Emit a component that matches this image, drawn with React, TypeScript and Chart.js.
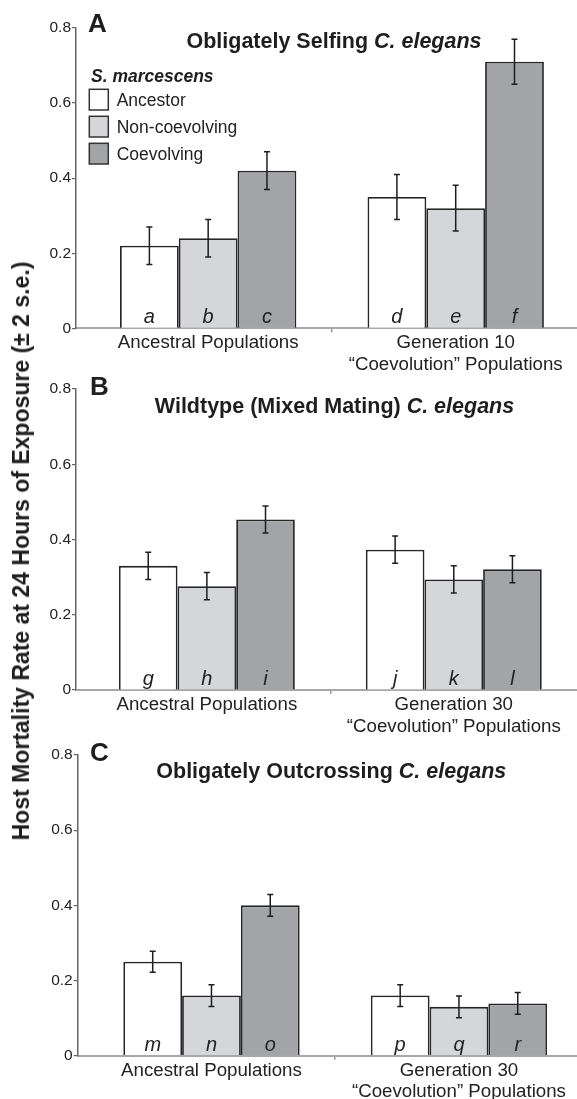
import React, { useEffect, useRef } from "react";
import { Chart, registerables } from "chart.js";

Chart.register(...registerables);

const FONT = 'Arial, "Liberation Sans", Helvetica, sans-serif';

// ---------- shared ----------
const SERIES_NAMES = ["Ancestor", "Non-coevolving", "Coevolving"];
const SERIES_COLORS = ["#ffffff", "#d5d6d9", "#a3a4a7"];
const Y_TICKS = [0, 0.2, 0.4, 0.6, 0.8];
const Y_TITLE = "Host Mortality Rate at 24 Hours of Exposure (\u00b1 2 s.e.)";
const LEGEND_TITLE = "S. marcescens";

// ---------- panel A ----------
const A_CATEGORIES = [["Ancestral Populations"], ["Generation 10", "\u201cCoevolution\u201d Populations"]];
const A_ANCESTOR = [0.22, 0.35];
const A_NONCOEV = [0.24, 0.32];
const A_COEV = [0.42, 0.71];
const A_ANCESTOR_ERR = [0.05, 0.06];
const A_NONCOEV_ERR = [0.05, 0.061];
const A_COEV_ERR = [0.05, 0.06];
const A_LETTERS = [["a", "d"], ["b", "e"], ["c", "f"]];

// ---------- panel B ----------
const B_CATEGORIES = [["Ancestral Populations"], ["Generation 30", "\u201cCoevolution\u201d Populations"]];
const B_ANCESTOR = [0.33, 0.373];
const B_NONCOEV = [0.276, 0.294];
const B_COEV = [0.453, 0.321];
const B_ANCESTOR_ERR = [0.036, 0.036];
const B_NONCOEV_ERR = [0.036, 0.036];
const B_COEV_ERR = [0.036, 0.036];
const B_LETTERS = [["g", "j"], ["h", "k"], ["i", "l"]];

// ---------- panel C ----------
const C_CATEGORIES = [["Ancestral Populations"], ["Generation 30", "\u201cCoevolution\u201d Populations"]];
const C_ANCESTOR = [0.25, 0.16];
const C_NONCOEV = [0.16, 0.13];
const C_COEV = [0.4, 0.139];
const C_ANCESTOR_ERR = [0.028, 0.029];
const C_NONCOEV_ERR = [0.029, 0.029];
const C_COEV_ERR = [0.029, 0.029];
const C_LETTERS = [["m", "p"], ["n", "q"], ["o", "r"]];

type PanelCfg = {
  categories: string[][];
  values: number[][];
  errors: number[][];
  letters: string[][];
  panelLetter: string;
  titleMain: string;
  titleItalic: string;
  legend: boolean;
  // layout
  top: number;
  height: number;
  padTop: number;
  xAxisHeight: number;
  axisLeft: number;
  xMin: number;
  xMax: number;
  titleX: number;
  titleBaseline: number;
  letterX: number;
  letterBaseline: number;
};

const PANELS: PanelCfg[] = [
  {
    categories: A_CATEGORIES,
    values: [A_ANCESTOR, A_NONCOEV, A_COEV],
    errors: [A_ANCESTOR_ERR, A_NONCOEV_ERR, A_COEV_ERR],
    letters: A_LETTERS,
    panelLetter: "A",
    titleMain: "Obligately Selfing ",
    titleItalic: "C. elegans",
    legend: true,
    top: 0,
    height: 400,
    padTop: 28,
    xAxisHeight: 71.7,
    axisLeft: 76,
    xMin: -0.534,
    xMax: 1.49,
    titleX: 334,
    titleBaseline: 48.3,
    letterX: 88,
    letterBaseline: 32.3,
  },
  {
    categories: B_CATEGORIES,
    values: [B_ANCESTOR, B_NONCOEV, B_COEV],
    errors: [B_ANCESTOR_ERR, B_NONCOEV_ERR, B_COEV_ERR],
    letters: B_LETTERS,
    panelLetter: "B",
    titleMain: "Wildtype (Mixed Mating) ",
    titleItalic: "C. elegans",
    legend: false,
    top: 370,
    height: 400,
    padTop: 19,
    xAxisHeight: 80,
    axisLeft: 76,
    xMin: -0.53,
    xMax: 1.499,
    titleX: 334.5,
    titleBaseline: 43.3,
    letterX: 90,
    letterBaseline: 25,
  },
  {
    categories: C_CATEGORIES,
    values: [C_ANCESTOR, C_NONCOEV, C_COEV],
    errors: [C_ANCESTOR_ERR, C_NONCOEV_ERR, C_COEV_ERR],
    letters: C_LETTERS,
    panelLetter: "C",
    titleMain: "Obligately Outcrossing ",
    titleItalic: "C. elegans",
    legend: false,
    top: 720,
    height: 379,
    padTop: 35,
    xAxisHeight: 43.3,
    axisLeft: 77.7,
    xMin: -0.5406,
    xMax: 1.477,
    titleX: 331.3,
    titleBaseline: 58.3,
    letterX: 90,
    letterBaseline: 40.7,
  },
];

function makeDecorPlugin(cfg: PanelCfg) {
  return {
    id: "decor" + cfg.panelLetter,
    afterDatasetsDraw(chart: any) {
      const ctx = chart.ctx as CanvasRenderingContext2D;
      const yScale = chart.scales.y;
      chart.data.datasets.forEach((_ds: any, i: number) => {
        const meta = chart.getDatasetMeta(i);
        meta.data.forEach((bar: any, j: number) => {
          const v = cfg.values[i][j];
          const e = cfg.errors[i][j];
          const x = bar.x;
          const y1 = yScale.getPixelForValue(v + e);
          const y2 = yScale.getPixelForValue(v - e);
          ctx.save();
          ctx.strokeStyle = "#1e1e1e";
          ctx.lineWidth = 1.5;
          ctx.beginPath();
          ctx.moveTo(x, y1);
          ctx.lineTo(x, y2);
          ctx.moveTo(x - 3, y1);
          ctx.lineTo(x + 3, y1);
          ctx.moveTo(x - 3, y2);
          ctx.lineTo(x + 3, y2);
          ctx.stroke();
          ctx.font = `italic 20px ${FONT}`;
          ctx.textAlign = "center";
          ctx.textBaseline = "alphabetic";
          ctx.fillStyle = "#222";
          ctx.fillText(cfg.letters[i][j], x, chart.chartArea.bottom - 5);
          ctx.restore();
        });
      });
    },
    afterDraw(chart: any) {
      const ctx = chart.ctx as CanvasRenderingContext2D;
      ctx.save();
      ctx.fillStyle = "#1e1e1e";
      ctx.textBaseline = "alphabetic";
      // panel letter
      ctx.textAlign = "left";
      ctx.font = `bold 26px ${FONT}`;
      ctx.fillText(cfg.panelLetter, cfg.letterX, cfg.letterBaseline);
      // title (mixed style)
      const fMain = `bold 21.5px ${FONT}`;
      const fItal = `italic bold 21.5px ${FONT}`;
      ctx.font = fMain;
      const w1 = ctx.measureText(cfg.titleMain).width;
      ctx.font = fItal;
      const w2 = ctx.measureText(cfg.titleItalic).width;
      const x0 = cfg.titleX - (w1 + w2) / 2;
      ctx.font = fMain;
      ctx.fillText(cfg.titleMain, x0, cfg.titleBaseline);
      ctx.font = fItal;
      ctx.fillText(cfg.titleItalic, x0 + w1, cfg.titleBaseline);
      // legend
      if (cfg.legend) {
        ctx.font = `italic bold 17.5px ${FONT}`;
        ctx.fillText(LEGEND_TITLE, 91, 81.7);
        chart.data.datasets.forEach((ds: any, k: number) => {
          const by = 89.3 + k * 27;
          ctx.fillStyle = ds.backgroundColor;
          ctx.fillRect(89.3, by, 19, 20.7);
          ctx.strokeStyle = "#333";
          ctx.lineWidth = 1.5;
          ctx.strokeRect(89.3, by, 19, 20.7);
          ctx.fillStyle = "#222";
          ctx.font = `17.5px ${FONT}`;
          ctx.textBaseline = "middle";
          ctx.fillText(ds.label, 116.7, by + 11.5);
          ctx.textBaseline = "alphabetic";
        });
      }
      ctx.restore();
    },
  };
}

function Panel({ cfg }: { cfg: PanelCfg }) {
  const ref = useRef<HTMLCanvasElement>(null);
  useEffect(() => {
    if (!ref.current) return;
    const chart = new Chart(ref.current, {
      type: "bar",
      data: {
        datasets: SERIES_NAMES.map((name, i) => ({
          label: name,
          data: cfg.values[i].map((v, j) => ({ x: j, y: v })),
          backgroundColor: SERIES_COLORS[i],
          borderColor: "#262626",
          borderWidth: 1.8,
          categoryPercentage: 0.7125,
          barPercentage: 1,
        })),
      },
      options: {
        responsive: false,
        animation: false,
        devicePixelRatio: 1,
        layout: { padding: { top: cfg.padTop, left: 0, right: 0, bottom: 0 } },
        plugins: {
          legend: { display: false },
          tooltip: { enabled: false },
          title: { display: false },
        },
        scales: {
          x: {
            type: "linear",
            offset: false,
            min: cfg.xMin,
            max: cfg.xMax,
            afterBuildTicks: (s: any) => {
              s.ticks = cfg.categories.map((_c, i) => ({ value: i }));
            },
            afterFit: (s: any) => {
              s.height = cfg.xAxisHeight;
            },
            ticks: {
              autoSkip: false,
              maxRotation: 0,
              minRotation: 0,
              padding: 0,
              color: "#222",
              font: { family: FONT, size: 18.7, lineHeight: 1.16 },
              callback: (_v: any, i: number) => cfg.categories[i],
            },
            grid: {
              offset: true,
              drawOnChartArea: false,
              drawTicks: true,
              tickLength: 4,
              lineWidth: 1.5,
              color: (c: any) => (c.index === 1 ? "#9a9a9a" : "rgba(0,0,0,0)"),
            },
            border: { display: true, color: "#a8a8a8", width: 2 },
          },
          y: {
            type: "linear",
            min: 0,
            max: 0.8,
            afterBuildTicks: (s: any) => {
              s.ticks = Y_TICKS.map((v) => ({ value: v }));
            },
            afterFit: (s: any) => {
              s.width = cfg.axisLeft;
            },
            ticks: {
              padding: 1,
              color: "#222",
              font: { family: FONT, size: 15.5 },
              callback: (v: any) => (v === 0 ? "0" : Number(v).toFixed(1)),
            },
            grid: {
              drawOnChartArea: false,
              drawTicks: true,
              tickLength: 4,
              color: "#666",
              lineWidth: 1.2,
            },
            border: { display: true, color: "#666", width: 1.5 },
          },
        },
      } as any,
      plugins: [makeDecorPlugin(cfg)],
    } as any);
    return () => chart.destroy();
  }, [cfg]);
  return (
    <canvas
      ref={ref}
      width={577}
      height={cfg.height}
      style={{ position: "absolute", left: 0, top: cfg.top, width: 577, height: cfg.height }}
    />
  );
}

export default function App() {
  return (
    <div style={{ position: "absolute", left: 0, top: 0, width: 577, height: 1099, background: "#fff", overflow: "hidden" }}>
      {PANELS.map((p) => (
        <Panel key={p.panelLetter} cfg={p} />
      ))}
      <div
        style={{
          position: "absolute",
          left: 21,
          top: 551,
          transform: "translate(-50%, -50%) rotate(-90deg)",
          whiteSpace: "nowrap",
          font: `bold 23px ${FONT}`,
          color: "#1e1e1e",
          lineHeight: "26px",
        }}
      >
        {Y_TITLE}
      </div>
    </div>
  );
}
